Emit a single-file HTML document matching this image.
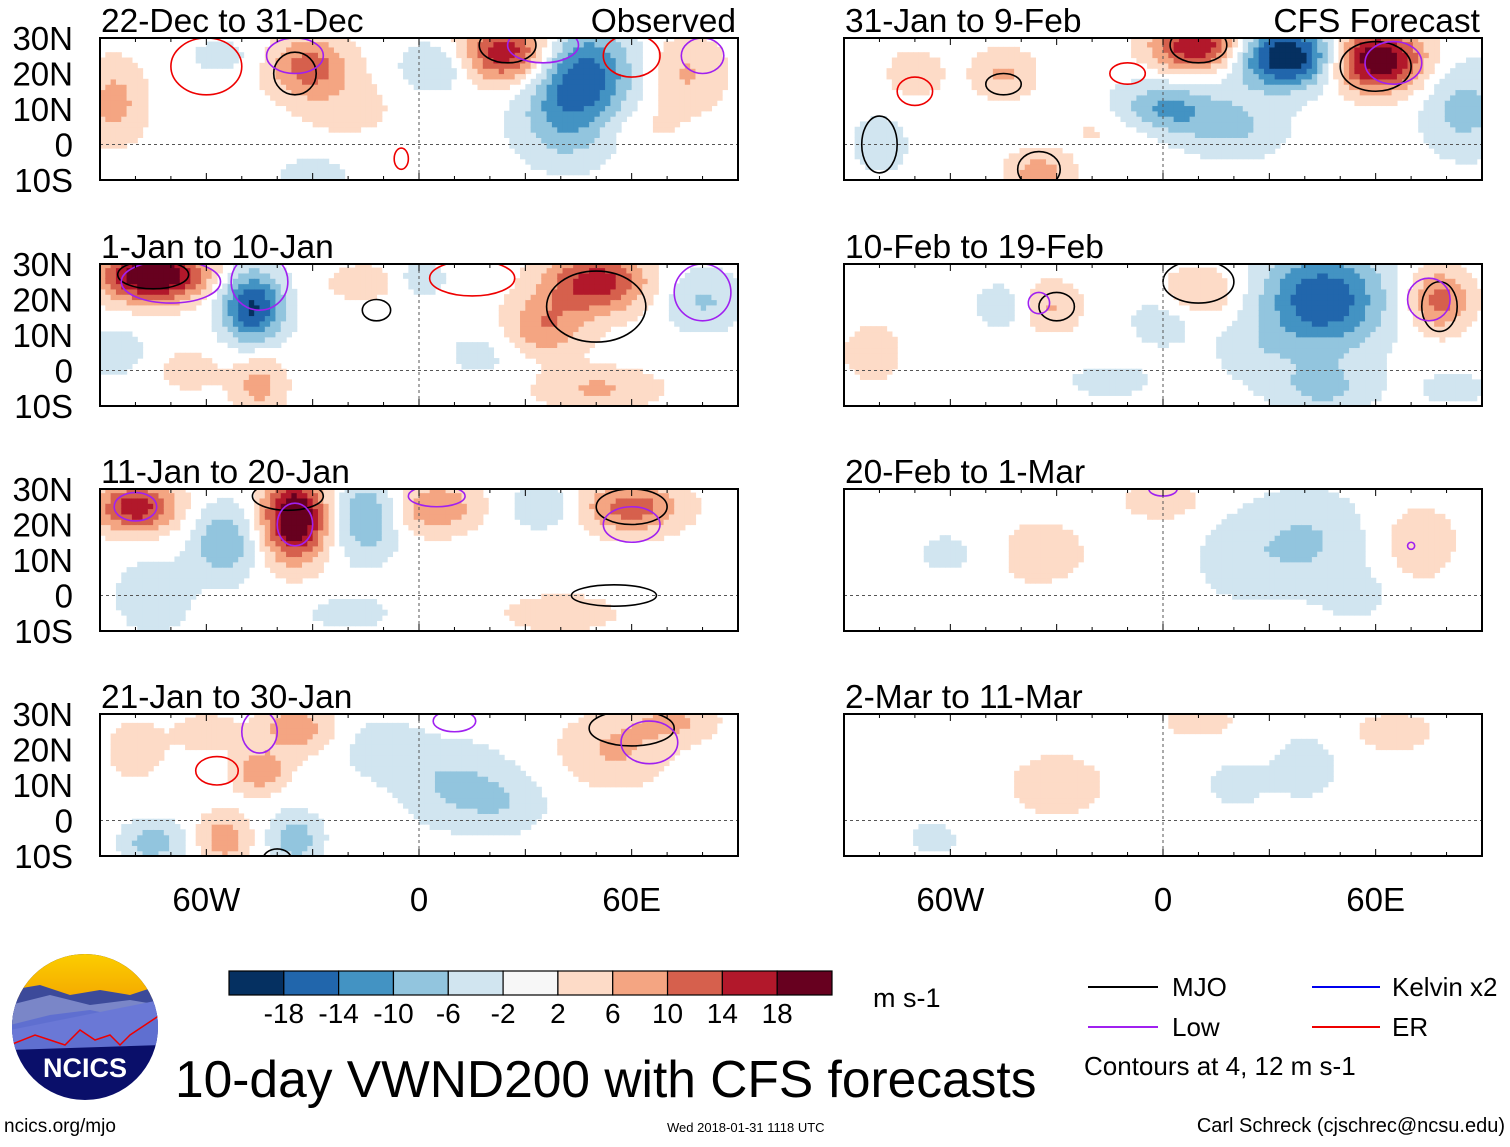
<!DOCTYPE html>
<html><head><meta charset="utf-8"><style>
body{margin:0;background:#fff;}
svg text{font-family:"Liberation Sans",sans-serif;}
</style></head><body>
<svg id="fig" width="1510" height="1142" xmlns="http://www.w3.org/2000/svg">
<rect width="1510" height="1142" fill="#fff"/>
<defs id="defs"></defs>
<g id="panels"></g>

<g id="cbar"></g>
<text x="873" y="1007" font-size="27">m s-1</text>

<g>
<line x1="1088" y1="987" x2="1158" y2="987" stroke="#000" stroke-width="2"/>
<text x="1172" y="996" font-size="26">MJO</text>
<line x1="1088" y1="1027" x2="1158" y2="1027" stroke="#a020f0" stroke-width="2"/>
<text x="1172" y="1036" font-size="26">Low</text>
<line x1="1312" y1="987" x2="1380" y2="987" stroke="#0000ee" stroke-width="2"/>
<text x="1392" y="996" font-size="26">Kelvin x2</text>
<line x1="1312" y1="1027" x2="1380" y2="1027" stroke="#ee0000" stroke-width="2"/>
<text x="1392" y="1036" font-size="26">ER</text>
<text x="1084" y="1075" font-size="26">Contours at 4, 12 m s-1</text>
</g>

<text x="175" y="1097" font-size="51.5">10-day VWND200 with CFS forecasts</text>
<text x="4" y="1132" font-size="19">ncics.org/mjo</text>
<text x="667" y="1132" font-size="13">Wed 2018-01-31 1118 UTC</text>
<text x="1505" y="1132" font-size="20" text-anchor="end">Carl Schreck (cjschrec@ncsu.edu)</text>

<g>
<defs><clipPath id="lc"><circle cx="85" cy="1027" r="73"/></clipPath>
<linearGradient id="sun" x1="0" y1="0" x2="0" y2="1"><stop offset="0" stop-color="#fcd000"/><stop offset="1" stop-color="#f4a800"/></linearGradient></defs>
<g clip-path="url(#lc)">
<rect x="10" y="950" width="150" height="160" fill="#0a0f6a"/>
<rect x="10" y="950" width="150" height="50" fill="url(#sun)"/>
<path d="M10 990 L40 985 L70 995 L100 990 L130 995 L160 985 L160 1020 L10 1030Z" fill="#3c4a9a"/>
<path d="M10 1005 L50 995 L90 1005 L130 1000 L160 1005 L160 1030 L10 1040Z" fill="#7a86c8"/>
<path d="M10 1025 L50 1015 L90 1010 L130 1018 L160 1012 L160 1045 L10 1050Z" fill="#5f6fd0"/>
<path d="M10 1045 L35 1035 L50 1040 L65 1045 L80 1030 L95 1040 L110 1035 L120 1045 L130 1035 L160 1015 L160 1000 L10 1030Z" fill="#6a78d6"/>
<path d="M10 1045 L35 1035 L50 1040 L65 1045 L80 1030 L95 1040 L110 1035 L120 1045 L130 1035 L160 1015" fill="none" stroke="#e00" stroke-width="1.5"/>
</g>
<text x="85" y="1077" font-size="27" font-weight="bold" fill="#fff" text-anchor="middle">NCICS</text>
</g>
</svg>
<script>
const NS='http://www.w3.org/2000/svg';
const levels=[-18,-14,-10,-6,-2,2,6,10,14,18];
const levelLabels=['-18','-14','-10','-6','-2','2','6','10','14','18'];
const colors=['#053061','#2166ac','#4393c3','#92c5de','#d1e5f0','#f7f7f7','#fddbc7','#f4a582','#d6604d','#b2182b','#67001f'];
const panelTitles=['22-Dec to 31-Dec','1-Jan to 10-Jan','11-Jan to 20-Jan','21-Jan to 30-Jan','31-Jan to 9-Feb','10-Feb to 19-Feb','20-Feb to 1-Mar','2-Mar to 11-Mar'];
const latTicks=[30,20,10,0,-10];
const latLabels=['30N','20N','10N','0','10S'];
const lonTicks=[-60,0,60];
const lonLabels=['60W','0','60E'];
// anomaly blobs per panel: [lon, lat, lonRadius, latRadius, value m/s]
const blobs0=[[25,26,9,6,16],[46,20,10,9,-15],[42,5,10,8,-7],[-31,22,8,6,11],[-86,12,6,8,7],[75,20,8,7,6],[5,22,7,5,-6],[-55,25,8,4,-3],[-20,10,10,6,3],[-30,-8,7,3,-4],[60,5,10,5,3]];
const blobs1=[[-75,27,10,5,22],[-47,18,6,7,-17],[50,25,10,6,15],[35,12,8,6,9],[50,-5,12,4,6],[-45,-4,5,6,7],[-15,25,8,4,4],[0,26,6,4,-4],[80,20,8,6,-6],[-85,5,6,5,-4],[20,5,10,6,-3],[-65,0,8,5,3]];
const blobs2=[[-80,25,8,5,15],[-35,22,6,8,22],[-55,15,6,7,-9],[-15,22,6,8,-9],[5,25,8,5,9],[60,25,10,5,11],[35,25,6,4,-6],[-75,0,8,8,-4],[40,-5,12,4,4],[-20,-5,10,4,-3]];
const blobs3=[[-45,14,5,4,9],[-35,26,7,5,8],[-55,-5,5,5,8],[-35,-5,5,5,-8],[-75,-6,6,4,-8],[10,10,10,8,-6],[55,20,10,7,6],[72,28,8,4,6],[-80,20,6,6,4],[-10,20,8,6,-4],[25,5,8,6,-4],[-60,25,6,4,4]];
const blobs4=[[10,28,9,5,17],[35,25,10,6,-21],[60,24,9,6,21],[0,10,10,5,-10],[20,5,10,6,-6],[85,10,8,9,-7],[-45,20,6,5,6],[-70,20,6,5,4],[-35,-8,6,4,8],[-80,0,6,6,-4],[-15,5,10,5,3]];
const blobs5=[[45,20,12,10,-16],[78,20,6,6,11],[10,22,8,5,6],[-32,18,6,5,6],[-45,18,6,5,-4],[0,15,7,6,-4],[-82,5,6,6,4],[45,-5,10,5,-6],[-15,-3,10,4,-3],[82,-5,8,4,-3],[25,5,8,6,-3]];
const blobs6=[[40,15,12,10,-6],[72,15,8,8,4],[-35,12,12,8,3],[0,27,8,4,4],[-60,12,8,5,-3],[20,10,8,8,-3],[55,0,6,5,-3]];
const blobs7=[[-30,10,12,8,3],[10,28,7,3,4],[65,25,8,4,4],[40,15,8,8,-3],[-65,-5,6,4,-3],[20,10,6,5,-3]];
const allBlobs=[blobs0,blobs1,blobs2,blobs3,blobs4,blobs5,blobs6,blobs7];
// contour ellipses per panel: [lon, lat, lonRadius, latRadius, type]
const contours0=[[25,28,8,5,'mjo'],[-35,20,6,6,'mjo'],[60,25,8,6,'er'],[-60,22,10,8,'er'],[-35,25,8,5,'low'],[-5,-4,2,3,'er'],[35,28,10,5,'low'],[80,25,6,5,'low']];
const contours1=[[-75,27,10,4,'mjo'],[50,18,14,10,'mjo'],[15,26,12,5,'er'],[-12,17,4,3,'mjo'],[-45,25,8,8,'low'],[-70,25,14,6,'low'],[80,22,8,8,'low']];
const contours2=[[-37,28,10,4,'mjo'],[-35,20,5,6,'low'],[60,25,10,5,'mjo'],[55,0,12,3,'mjo'],[5,28,8,3,'low'],[60,20,8,5,'low'],[-80,25,6,4,'low']];
const contours3=[[-57,14,6,4,'er'],[-45,25,5,6,'low'],[60,26,12,5,'mjo'],[65,22,8,6,'low'],[-40,-11,4,3,'mjo'],[10,28,6,3,'low']];
const contours4=[[10,28,8,5,'mjo'],[60,22,10,7,'mjo'],[-45,17,5,3,'mjo'],[-70,15,5,4,'er'],[-35,-7,6,5,'mjo'],[-80,0,5,8,'mjo'],[-10,20,5,3,'er'],[65,23,8,6,'low']];
const contours5=[[-30,18,5,4,'mjo'],[-35,19,3,3,'low'],[10,25,10,6,'mjo'],[78,18,5,7,'mjo'],[75,20,6,6,'low']];
const contours6=[[0,30,4,2,'low'],[70,14,1,1,'low']];
const contours7=[];
const allContours=[contours0,contours1,contours2,contours3,contours4,contours5,contours6,contours7];
const contourColor={mjo:'#000',low:'#a020f0',er:'#ee0000',kelvin:'#0000ee'};

const colX=[100,844], rowY=[38,264,489,714], PW=638, PH=142;
const SPREAD=1.45;
function colorFor(v){let i=0;while(i<levels.length&&v>levels[i])i++;return colors[i];}
function xS(x0,lon){return x0+(lon+90)/180*PW;}
function yS(y0,lat){return y0+(30-lat)/40*PH;}
function field(bl,lon,lat){let s=0;for(const b of bl){const dl=(lon-b[0])/(b[2]*SPREAD),dp=(lat-b[1])/(b[3]*SPREAD);s+=b[4]*1.1*Math.exp(-(dl*dl+dp*dp));}return s;}

const G=document.getElementById('panels');
const D=document.getElementById('defs');
for(let p=0;p<8;p++){
  const x0=colX[Math.floor(p/4)], y0=rowY[p%4];
  const cp=document.createElementNS(NS,'clipPath');cp.setAttribute('id','pc'+p);
  const cr=document.createElementNS(NS,'rect');cr.setAttribute('x',x0);cr.setAttribute('y',y0);cr.setAttribute('width',PW);cr.setAttribute('height',PH);
  cp.appendChild(cr);D.appendChild(cp);
  const g=document.createElementNS(NS,'g');
  
  
  G.appendChild(g);
  const inner=document.createElementNS(NS,'g');
  inner.setAttribute('clip-path','url(#pc'+p+')');
  g.appendChild(inner);
  const step=1.5;
  for(let lon=-90;lon<90;lon+=step){for(let lat=-10;lat<30;lat+=step){
    const v=field(allBlobs[p],lon+step/2,lat+step/2);
    const c=colorFor(v); if(c==='#f7f7f7')continue;
    const r=document.createElementNS(NS,'rect');
    
    
    const xa=xS(x0,lon),ya=yS(y0,lat+step);
    r.setAttribute('x',xa);r.setAttribute('y',ya);
    r.setAttribute('width',xS(x0,lon+step)-xa+0.6);r.setAttribute('height',yS(y0,lat)-ya+0.6);
    r.setAttribute('fill',c);inner.appendChild(r);
  }}
  for(const c of allContours[p]){
    const e=document.createElementNS(NS,'ellipse');
    
    
    e.setAttribute('cx',xS(x0,c[0]));e.setAttribute('cy',yS(y0,c[1]));
    e.setAttribute('rx',c[2]*PW/180);e.setAttribute('ry',c[3]*PH/40);
    e.setAttribute('fill','none');e.setAttribute('stroke',contourColor[c[4]]);e.setAttribute('stroke-width','1.6');
    inner.appendChild(e);
  }
  const eq=document.createElementNS(NS,'line');
  
  eq.setAttribute('x1',x0);eq.setAttribute('x2',x0+PW);eq.setAttribute('y1',yS(y0,0));eq.setAttribute('y2',yS(y0,0));
  eq.setAttribute('stroke','#555');eq.setAttribute('stroke-dasharray','3,3');g.appendChild(eq);
  const mer=document.createElementNS(NS,'line');
  
  mer.setAttribute('x1',xS(x0,0));mer.setAttribute('x2',xS(x0,0));mer.setAttribute('y1',y0);mer.setAttribute('y2',y0+PH);
  mer.setAttribute('stroke','#555');mer.setAttribute('stroke-dasharray','3,3');g.appendChild(mer);
  for(let lon=-90;lon<=90;lon+=10){
    const big=(lon%30===0)?7:4;
    for(const yy of [y0,y0+PH]){
      const t=document.createElementNS(NS,'line');
      
      t.setAttribute('x1',xS(x0,lon));t.setAttribute('x2',xS(x0,lon));
      t.setAttribute('y1',yy);t.setAttribute('y2',yy===y0?yy+big:yy-big);t.setAttribute('stroke','#000');g.appendChild(t);
    }
  }
  const fr=document.createElementNS(NS,'rect');
  
  fr.setAttribute('x',x0);fr.setAttribute('y',y0);fr.setAttribute('width',PW);fr.setAttribute('height',PH);
  fr.setAttribute('fill','none');fr.setAttribute('stroke','#000');fr.setAttribute('stroke-width','2');g.appendChild(fr);
  const tt=document.createElementNS(NS,'text');
  
  tt.setAttribute('x',x0+1);tt.setAttribute('y',y0-6);tt.setAttribute('font-size','33.5');
  tt.textContent=panelTitles[p];g.appendChild(tt);
  if(p%4===0){
    const lab=document.createElementNS(NS,'text');
    
    lab.setAttribute('x',x0+PW-2);lab.setAttribute('y',y0-6);lab.setAttribute('font-size','33.5');lab.setAttribute('text-anchor','end');
    lab.textContent=p===0?'Observed':'CFS Forecast';g.appendChild(lab);
  }
  if(p<4){
    latTicks.forEach((lt,i)=>{
      const l=document.createElementNS(NS,'text');
      
      l.setAttribute('x',73);l.setAttribute('y',yS(y0,lt)+12);l.setAttribute('font-size','33');l.setAttribute('text-anchor','end');
      l.textContent=latLabels[i];g.appendChild(l);
    });
  }
  if(p%4===3){
    lonTicks.forEach((ln,i)=>{
      const l=document.createElementNS(NS,'text');
      
      l.setAttribute('x',xS(x0,ln));l.setAttribute('y',911);l.setAttribute('font-size','33');l.setAttribute('text-anchor','middle');
      l.textContent=lonLabels[i];g.appendChild(l);
    });
  }
}
const CB=document.getElementById('cbar');
const cbx=229,cby=971,cbw=603/11,cbh=24;
colors.forEach((c,i)=>{
  const r=document.createElementNS(NS,'rect');
  
  r.setAttribute('x',cbx+i*cbw);r.setAttribute('y',cby);r.setAttribute('width',cbw);r.setAttribute('height',cbh);
  r.setAttribute('fill',c);r.setAttribute('stroke','#000');r.setAttribute('stroke-width','1.2');CB.appendChild(r);
});
levelLabels.forEach((t,i)=>{
  const l=document.createElementNS(NS,'text');
  
  l.setAttribute('x',cbx+(i+1)*cbw);l.setAttribute('y',1023);l.setAttribute('font-size','28');l.setAttribute('text-anchor','middle');
  l.textContent=t;CB.appendChild(l);
});
</script>
</body></html>
